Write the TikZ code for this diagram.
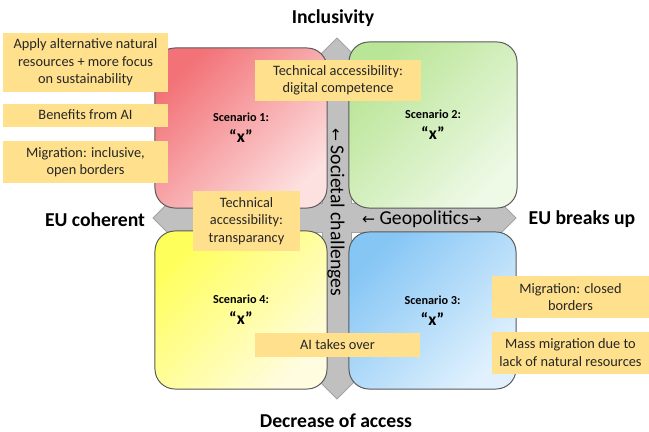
\documentclass[tikz,border=0pt]{standalone}
\usepackage{fontspec}
\setmainfont{Carlito}
\newfontfamily\arrowfont{DejaVu Sans}
\usepackage{tikz}
\usetikzlibrary{positioning}
\usepackage{xcolor}
\definecolor{notefill}{HTML}{FFE08C}
\definecolor{notetext}{HTML}{262626}
\definecolor{crossgray}{HTML}{C0C0C0}
\definecolor{crossedge}{HTML}{A3A3A3}
\definecolor{boxedge}{HTML}{595959}
\definecolor{redtop}{HTML}{F27277}
\definecolor{redbot}{HTML}{FDE0E0}
\definecolor{greentop}{HTML}{B9E596}
\definecolor{greenbot}{HTML}{EEF9E6}
\definecolor{bluetop}{HTML}{86C6F5}
\definecolor{bluebot}{HTML}{E0F1FD}
\definecolor{yellowtop}{HTML}{FFFF5C}
\definecolor{yellowbot}{HTML}{FFFCE0}
\newcommand{\bigx}[1]{{\fontsize{12.5}{14}\selectfont #1}}
\newcommand{\arr}[1]{{\arrowfont\fontsize{11}{12}\selectfont #1}}
\tikzset{
	node distance = 0.3 cm and 0.3 cm,
	scen/.style = {rounded corners=0.5cm, draw=boxedge, line width=0.7pt, align=center, text=black,
		font=\bfseries\fontsize{8.7}{15}\selectfont},
	note/.style = {fill=notefill, align=center, inner sep=1pt, text=notetext,
		font=\fontsize{10.2}{12.4}\selectfont},
	axlabel/.style = {font=\bfseries\fontsize{14}{16}\selectfont, text=black},
	barlabel/.style = {font=\fontsize{14}{16}\selectfont, text=black},
	cross/.style = {fill=crossgray, draw=crossedge, line width=0.6pt, line join=miter}
}

\begin{document}
\begin{tikzpicture}[x=0.025cm, y=-0.025cm]
	\useasboundingbox (0,0) rectangle (649,432);
	
	% four-way arrow
	\draw[cross] (337,38) -- (367,68) -- (351.5,68) -- (351.5,203.5) -- (486,203.5) -- (486,188)
		-- (516,218) -- (486,248) -- (486,232.5) -- (351.5,232.5) -- (351.5,369) -- (367,369)
		-- (337,399) -- (307,369) -- (322.5,369) -- (322.5,232.5) -- (183,232.5) -- (183,248)
		-- (153,218) -- (183,188) -- (183,203.5) -- (322.5,203.5) -- (322.5,68) -- (307,68) -- cycle;
	
	% scenarios
	\node (s1) [scen, top color=redtop, bottom color=redbot, shading angle=45,
		minimum width=4.3cm, minimum height=4cm] at (241,128) {Scenario 1:\\\bigx{“x”}};
	\node (s2) [scen, top color=greentop, bottom color=greenbot, shading angle=45,
		minimum width=4.2cm, minimum height=4.15cm] at (433,125) {Scenario 2:\\\bigx{“x”}};
	\node (s4) [scen, top color=yellowtop, bottom color=yellowbot, shading angle=45,
		minimum width=4.3cm, minimum height=3.95cm] at (241,310) {Scenario 4:\\\bigx{“x”}};
	\node (s3) [scen, top color=bluetop, bottom color=bluebot, shading angle=45,
		minimum width=4.175cm, minimum height=3.925cm] at (432.5,310.5) {Scenario 3:\\\bigx{“x”}};
	
	% axis texts
	\node (soc) [barlabel, rotate=-90] at (336,212.5) {\arr{←} Societal challenges};
	\node (geo) [barlabel] at (422,219) {\arr{←} Geopolitics\arr{→}};
	\node (up) [axlabel] at (333,18) {Inclusivity};
	\node (down) [axlabel] at (336,421) {Decrease of access};
	\node (left) [axlabel] at (95,220) {EU coherent};
	\node (right) [axlabel] at (582,219) {EU breaks up};
	
	% notes
	\node (n1) [note, minimum width=4.125cm, minimum height=1.475cm] at (85.5,62.5)
		{Apply alternative natural\\resources + more focus\\on sustainability};
	\node (n2) [note, minimum width=4.125cm, minimum height=0.575cm, below = 0.275cm of n1] {Benefits from AI};
	\node (n3) [note, minimum width=4.125cm, minimum height=1.05cm, below = 0.35cm of n2]
		{Migration: inclusive,\\open borders};
	\node (n4) [note, minimum width=4.15cm, minimum height=1.025cm] at (338,80.5)
		{Technical accessibility:\\digital competence};
	\node (n5) [note, minimum width=2.675cm, minimum height=1.5cm] at (246.5,221)
		{Technical\\accessibility:\\transparancy};
	\node (n6) [note, minimum width=4.125cm, minimum height=0.6cm] at (337.5,345) {AI takes over};
	\node (n7) [note, minimum width=3.925cm, minimum height=1.05cm] at (570.5,297)
		{Migration: closed\\borders};
	\node (n8) [note, minimum width=3.925cm, minimum height=1.05cm, below = 0.325cm of n7]
		{Mass migration due to\\lack of natural resources};
	
\end{tikzpicture}
\end{document}
